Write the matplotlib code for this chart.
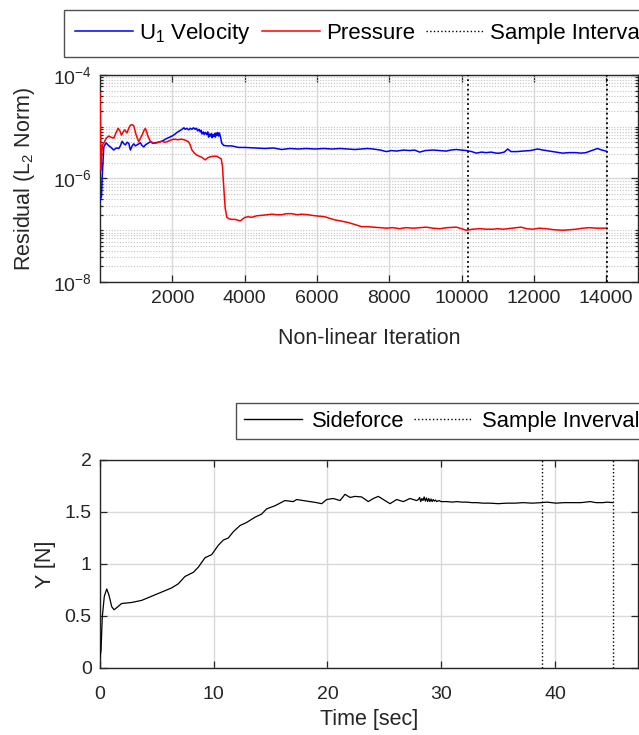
import numpy as np
import matplotlib
matplotlib.use("Agg")
import matplotlib.pyplot as plt
from matplotlib.ticker import LogLocator, FixedLocator, NullFormatter

plt.rcParams['font.family'] = ['Liberation Sans', 'DejaVu Sans']
plt.rcParams['mathtext.fontset'] = 'custom'
plt.rcParams['mathtext.rm'] = 'Liberation Sans'
plt.rcParams['mathtext.it'] = 'Liberation Sans:italic'
plt.rcParams['mathtext.bf'] = 'Liberation Sans:bold'

# ---------------- data: residuals ----------------
u_iter = [0, 40, 60, 105, 170, 230, 290, 380, 450, 520, 570, 612, 660, 703, 750, 795, 841, 890, 933, 980,
          1024, 1070, 1117, 1160, 1209, 1255, 1301, 1350, 1393, 1460, 1531, 1600, 1669, 1740, 1807, 1900,
          1991, 2060, 2129, 2200, 2267, 2320, 2360, 2400, 2451, 2500, 2540, 2590, 2634, 2670, 2700, 2740,
          2772, 2800, 2820, 2860, 2880, 2910, 2950, 2980, 3002, 3030, 3050, 3080, 3100, 3120, 3140, 3170,
          3190, 3210, 3230, 3255, 3278, 3300, 3320, 3370, 3420, 3508, 3650, 3829, 4014, 4300, 4566,
          4800, 5026, 5250, 5486, 5700, 5945, 6200, 6405, 6650, 6864, 7050, 7232, 7400, 7553, 7750, 7920,
          8060, 8198, 8400, 8566, 8700, 8841, 9000, 9208, 9400, 9578, 9700, 9855, 10000, 10130, 10280,
          10405, 10550, 10681, 10820, 10957, 11048, 11180, 11277, 11369, 11530, 11691, 11900, 12105, 12250,
          12428, 12600, 12795, 12980, 13164, 13300, 13440, 13600, 13760, 13880, 13991]
u_log = [-6.42, -6.35, -5.97, -5.39, -5.31, -5.36, -5.39, -5.45, -5.41, -5.42, -5.36, -5.28, -5.33, -5.35,
         -5.30, -5.32, -5.45, -5.37, -5.33, -5.37, -5.35, -5.33, -5.31, -5.36, -5.39, -5.35, -5.33, -5.31,
         -5.29, -5.32, -5.31, -5.30, -5.29, -5.27, -5.24, -5.21, -5.18, -5.15, -5.11, -5.08, -5.05, -5.02,
         -5.05, -5.03, -5.06, -5.03, -5.05, -5.02, -5.05, -5.03, -5.08, -5.05, -5.10, -5.07, -5.14, -5.10,
         -5.15, -5.11, -5.15, -5.10, -5.20, -5.14, -5.18, -5.13, -5.21, -5.15, -5.19, -5.13, -5.20, -5.12,
         -5.17, -5.11, -5.18, -5.12, -5.16, -5.32, -5.36, -5.37, -5.37, -5.40, -5.40, -5.41, -5.42,
         -5.41, -5.44, -5.42, -5.43, -5.42, -5.43, -5.42, -5.43, -5.42, -5.43, -5.44, -5.43, -5.42, -5.43,
         -5.45, -5.48, -5.46, -5.47, -5.45, -5.46, -5.45, -5.49, -5.46, -5.45, -5.46, -5.47, -5.45, -5.44,
         -5.45, -5.46, -5.48, -5.51, -5.49, -5.50, -5.49, -5.51, -5.51, -5.49, -5.43, -5.48, -5.48, -5.47,
         -5.46, -5.43, -5.45, -5.47, -5.49, -5.51, -5.50, -5.50, -5.51, -5.50, -5.46, -5.42, -5.45, -5.47]

p_iter = [0, 15, 30, 50, 70, 105, 170, 243, 300, 380, 440, 500, 550, 593, 640, 685, 745, 800, 841, 890,
          933, 1000, 1071, 1120, 1163, 1210, 1255, 1290, 1329, 1393, 1460, 1531, 1620, 1715, 1790, 1853,
          1950, 2037, 2150, 2267, 2360, 2450, 2500, 2543, 2610, 2680, 2750, 2819, 2870, 2910, 2980, 3048,
          3140, 3233, 3300, 3352, 3385, 3416, 3440, 3462, 3508, 3570, 3646, 3738, 3876, 3950, 4014, 4100,
          4198, 4336, 4500, 4750, 4900, 5026, 5150, 5302, 5450, 5578, 5750, 5945, 6100, 6221, 6350, 6497,
          6650, 6864, 7050, 7232, 7400, 7553, 7750, 7920, 8100, 8290, 8450, 8660, 8850, 9026, 9200, 9393,
          9600, 9855, 10000, 10130, 10300, 10497, 10700, 10864, 11000, 11150, 11400, 11646, 11800, 11967,
          12150, 12336, 12550, 12795, 13000, 13164, 13350, 13531, 13750, 13991]
p_log = [-4.33, -5.00, -5.84, -5.50, -5.35, -5.32, -5.22, -5.18, -5.20, -5.22, -5.12, -5.03, -5.08, -5.16,
         -5.10, -5.06, -5.12, -5.02, -4.97, -4.96, -4.98, -5.16, -5.29, -5.22, -5.16, -5.08, -5.03, -5.10,
         -5.19, -5.28, -5.31, -5.32, -5.30, -5.28, -5.30, -5.29, -5.26, -5.24, -5.25, -5.24, -5.26, -5.29,
         -5.36, -5.45, -5.51, -5.55, -5.57, -5.59, -5.62, -5.64, -5.60, -5.58, -5.57, -5.57, -5.60, -5.62,
         -5.75, -6.09, -6.35, -6.57, -6.75, -6.78, -6.79, -6.79, -6.82, -6.78, -6.75, -6.74, -6.75, -6.72,
         -6.71, -6.69, -6.70, -6.70, -6.68, -6.68, -6.70, -6.69, -6.70, -6.72, -6.73, -6.74, -6.77, -6.80,
         -6.82, -6.85, -6.89, -6.93, -6.93, -6.94, -6.95, -6.96, -6.95, -6.97, -6.95, -6.96, -6.95, -6.94,
         -6.96, -6.97, -6.95, -6.94, -6.97, -7.00, -6.98, -6.97, -6.98, -6.98, -6.97, -6.98, -6.96, -6.94,
         -6.97, -6.98, -6.96, -6.97, -6.99, -7.00, -6.99, -6.98, -6.96, -6.95, -6.96, -6.96]

res_samples = [10190, 14010]

# ---------------- data: sideforce ----------------
t_sec = [0, 0.09, 0.2, 0.38, 0.59, 0.79, 1.03, 1.23, 1.47, 1.9, 2.78, 3.66, 4.54, 5.42, 6.3, 6.89, 7.47,
         8.21, 8.65, 9.23, 9.82, 10.4, 10.84, 11.28, 11.72, 12.31, 12.9, 13.63, 14.21, 14.65, 15.38, 16.26,
         17.0, 17.29, 17.87, 18.46, 19.05, 19.49, 19.93, 20.51, 21.1, 21.54, 21.98, 22.42, 23.0, 23.59,
         24.03, 24.47, 24.91, 25.5, 26.08, 26.67, 27.25, 27.84, 28.0, 28.1, 28.2, 28.3, 28.4, 28.5, 28.6,
         28.7, 28.8, 28.9, 29.0, 29.1, 29.2, 29.3, 29.4, 29.5, 29.6, 29.8, 30.0, 30.5, 31.0, 31.36, 31.8,
         32.24, 32.7, 33.1, 33.7, 34.3, 35.0, 35.75, 36.5, 37.2, 38.0, 38.8, 39.3, 40.1, 40.8, 41.6, 42.3,
         43.1, 43.6, 44.2, 44.6, 45.07]
y_side = [0.10, 0.17, 0.49, 0.69, 0.76, 0.70, 0.59, 0.56, 0.58, 0.62, 0.63, 0.65, 0.69, 0.73, 0.77, 0.81,
          0.88, 0.92, 0.97, 1.06, 1.09, 1.18, 1.23, 1.25, 1.31, 1.37, 1.40, 1.45, 1.48, 1.53, 1.56, 1.61,
          1.60, 1.62, 1.61, 1.60, 1.59, 1.58, 1.62, 1.63, 1.61, 1.67, 1.64, 1.65, 1.645, 1.60, 1.63, 1.65,
          1.62, 1.58, 1.62, 1.60, 1.63, 1.61, 1.62, 1.64, 1.60, 1.63, 1.61, 1.645, 1.605, 1.635, 1.60, 1.63,
          1.60, 1.625, 1.60, 1.62, 1.605, 1.615, 1.60, 1.61, 1.60, 1.60, 1.595, 1.60, 1.595, 1.595, 1.59,
          1.59, 1.585, 1.585, 1.58, 1.585, 1.585, 1.59, 1.585, 1.59, 1.595, 1.585, 1.59, 1.59, 1.59, 1.60,
          1.59, 1.59, 1.595, 1.59]
side_samples = [38.83, 45.1]

# ---------------- figure ----------------
W, H = 639, 735
fig = plt.figure(figsize=(W / 100, H / 100), dpi=100)
dark = '#262626'
majgrid = '#d9d9d9'
mingrid = '#c4c4c4'
TICK_FS = 14
LAB_FS = 15.5


def style_axes(ax, xpad=6):
    for s in ax.spines.values():
        s.set_color(dark)
        s.set_linewidth(1.0)
    ax.tick_params(which='both', direction='in', top=True, right=True, colors=dark,
                   labelcolor=dark, labelsize=TICK_FS, width=0.9)
    ax.tick_params(which='major', length=5, pad=6)
    ax.tick_params(which='minor', length=2.5)
    ax.tick_params(axis='x', which='major', pad=xpad)


# Top: residuals
ax1 = fig.add_axes([100 / W, 1 - 282 / H, 538 / W, 207 / H])
ax1.semilogy(u_iter, 10 ** np.array(u_log), color='#0000ff', lw=1.1, zorder=3)
ax1.semilogy(p_iter, 10 ** np.array(p_log), color='#ff0000', lw=1.1, zorder=3)
for xs in res_samples:
    ax1.axvline(xs, color='black', ls=':', lw=1.3, zorder=4)
ax1.set_xlim(0, 14880)
ax1.set_ylim(1e-8, 1e-4)
ax1.set_xticks([2000, 4000, 6000, 8000, 10000, 12000, 14000])
ax1.yaxis.set_major_locator(FixedLocator([1e-8, 1e-6, 1e-4]))
ax1.yaxis.set_minor_locator(LogLocator(base=10, subs=np.arange(1, 10), numticks=20))
ax1.yaxis.set_minor_formatter(NullFormatter())
ax1.set_yticklabels(['$\\mathdefault{10^{-8}}$', '$\\mathdefault{10^{-6}}$', '$\\mathdefault{10^{-4}}$'])
ax1.grid(True, which='major', axis='both', color=majgrid, lw=1.0, zorder=0)
ax1.grid(True, which='minor', axis='y', color=mingrid, lw=0.8, ls=(0, (1, 1.5)), zorder=0)
ax1.set_axisbelow(True)
style_axes(ax1)
ax1.set_xlabel('Non-linear Iteration', fontsize=LAB_FS, color=dark, labelpad=15)
ax1.set_ylabel('Residual (L$_2$ Norm)', fontsize=LAB_FS, color=dark, labelpad=11)

h_u, = ax1.plot([], [], color='#0000ff', lw=1.1)
h_p, = ax1.plot([], [], color='#ff0000', lw=1.1)
h_s, = ax1.plot([], [], color='black', ls=':', lw=1.0)
leg1 = fig.legend([h_u, h_p, h_s], ['U$_1$ Velocity', 'Pressure', 'Sample Interval'],
                  loc='upper left', bbox_to_anchor=(64 / W, 1 - 10 / H), ncol=3, frameon=True,
                  fancybox=False, edgecolor=dark, fontsize=16, handlelength=2.6,
                  handletextpad=0.28, columnspacing=0.5, borderpad=0.5, borderaxespad=0)
leg1.get_frame().set_linewidth(1.0)

# Bottom: sideforce
ax2 = fig.add_axes([100 / W, 1 - 668 / H, 538 / W, 208 / H])
ax2.plot(t_sec, y_side, color='black', lw=0.9, zorder=3)
for xs in side_samples:
    ax2.axvline(xs, color='black', ls=':', lw=1.0, zorder=4)
ax2.set_xlim(0, 47.3)
ax2.set_ylim(0, 2)
ax2.set_xticks([0, 10, 20, 30, 40])
ax2.set_yticks([0, 0.5, 1, 1.5, 2])
ax2.set_yticklabels(['0', '0.5', '1', '1.5', '2'])
ax2.grid(True, which='major', color=majgrid, lw=1.0, zorder=0)
ax2.set_axisbelow(True)
style_axes(ax2, xpad=13)
ax2.set_xlabel('Time [sec]', fontsize=LAB_FS, color=dark, labelpad=4)
ax2.set_ylabel('Y [N]', fontsize=LAB_FS, color=dark, labelpad=6)

h_f, = ax2.plot([], [], color='black', lw=1.0)
h_s2, = ax2.plot([], [], color='black', ls=':', lw=1.0)
leg2 = fig.legend([h_f, h_s2], ['Sideforce', 'Sample Inverval'],
                  loc='upper left', bbox_to_anchor=(236 / W, 1 - 403 / H), ncol=2, frameon=True,
                  fancybox=False, edgecolor=dark, fontsize=15.8, handlelength=2.65,
                  handletextpad=0.45, columnspacing=0.45, borderpad=0.35, borderaxespad=0)
leg2.get_frame().set_linewidth(1.0)

fig.savefig('out.png', dpi=100)
